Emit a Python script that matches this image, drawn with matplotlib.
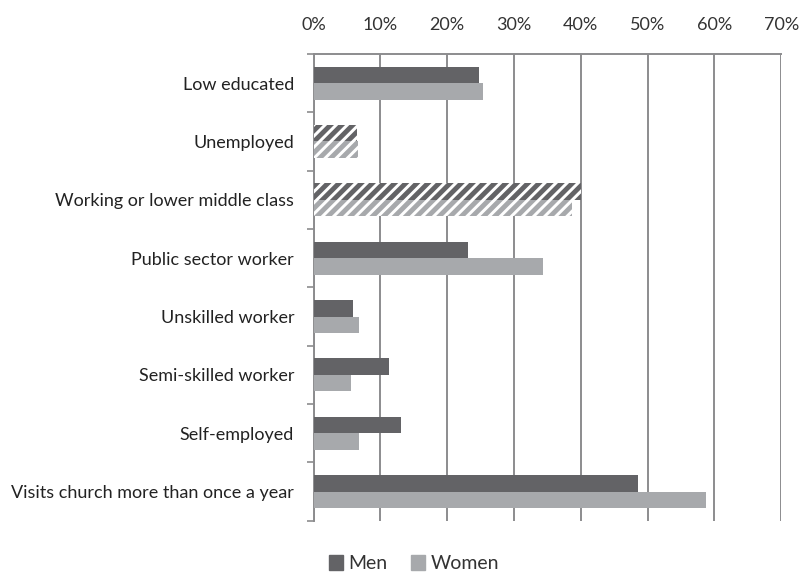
import matplotlib.pyplot as plt
import numpy as np

categories = ['Low educated', 'Unemployed', 'Working or lower middle class',
              'Public sector worker', 'Unskilled worker', 'Semi-skilled worker',
              'Self-employed', 'Visits church more than once a year']
men = [24.7, 6.5, 40.1, 23.1, 5.9, 11.3, 13.1, 48.6]
women = [25.3, 6.6, 38.7, 34.4, 6.8, 5.6, 6.8, 58.7]
hatched = ['Unemployed', 'Working or lower middle class']
xticks = [0, 10, 20, 30, 40, 50, 60, 70]

men_color = '#636366'
women_color = '#a7a9ac'
grid_color = '#8c8c8e'

plt.rcParams['font.family'] = ['Lato', 'DejaVu Sans']
plt.rcParams['hatch.linewidth'] = 3.5

fig = plt.figure(figsize=(8.02, 5.73), dpi=100)
ax = fig.add_axes([0.391, 0.0913, 0.583, 0.8145])

y = np.arange(len(categories))
h = 0.283
for i, cat in enumerate(categories):
    if cat in hatched:
        ax.barh(y[i] - h / 2, men[i], height=h, color='white', edgecolor=men_color,
                hatch='///', linewidth=0, zorder=3)
        ax.barh(y[i] + h / 2, women[i], height=h, color='white', edgecolor=women_color,
                hatch='///', linewidth=0, zorder=3)
    else:
        ax.barh(y[i] - h / 2, men[i], height=h, color=men_color, zorder=3)
        ax.barh(y[i] + h / 2, women[i], height=h, color=women_color, zorder=3)

ax.set_xlim(0, 70)
ax.set_ylim(len(categories) - 0.5, -0.5)
ax.set_xticks(xticks)
ax.set_xticklabels([f'{t}%' for t in xticks])
ax.xaxis.tick_top()
ax.tick_params(axis='x', length=0, pad=15, labelsize=13, colors='#333333')
ax.grid(axis='x', color=grid_color, linewidth=1.4, zorder=0)

ax.set_yticks(y)
ax.set_yticklabels(categories)
ax.set_yticks(np.arange(-0.5, len(categories)), minor=True)
ax.tick_params(axis='y', which='major', length=0, pad=14, labelsize=13, colors='#222222')
ax.tick_params(axis='y', which='minor', length=5, width=1.2, color=grid_color)

for s in ['right', 'bottom']:
    ax.spines[s].set_visible(False)
ax.spines['left'].set_color(grid_color)
ax.spines['left'].set_linewidth(1.4)
ax.spines['top'].set_color(grid_color)
ax.spines['top'].set_linewidth(1.4)

handles = [plt.Rectangle((0, 0), 1, 1, color=men_color),
           plt.Rectangle((0, 0), 1, 1, color=women_color)]
fig.legend(handles, ['Men', 'Women'], loc='center', bbox_to_anchor=(0.516, 0.016),
           ncol=2, frameon=False, fontsize=14, handlelength=0.75, handleheight=0.75,
           handletextpad=0.25, columnspacing=1.2, borderpad=0, labelcolor='#333333')

fig.savefig('out.png', dpi=100)
